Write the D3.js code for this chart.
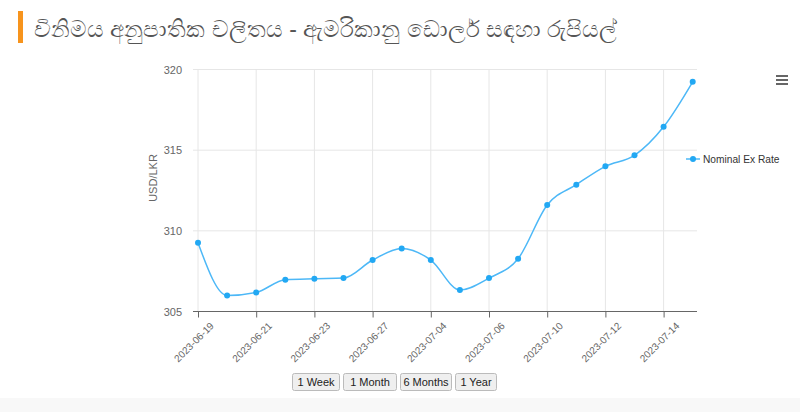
<!DOCTYPE html>
<html>
<head>
<meta charset="utf-8">
<script src="https://cdn.jsdelivr.net/npm/d3@7"></script>
<style>
  body { margin: 0; background: #fff; font-family: "Liberation Sans", Arial, sans-serif; }
  #chart { position: relative; width: 800px; height: 412px; overflow: hidden; }
  .grid line { stroke: #e6e6e6; }
  .tick text { fill: #666; }
</style>
</head>
<body>
<div id="chart"></div>
<script>
// data
var dates = ["2023-06-19", "2023-06-20", "2023-06-21", "2023-06-22", "2023-06-23", "2023-06-26",
    "2023-06-27", "2023-06-28", "2023-07-04", "2023-07-05", "2023-07-06", "2023-07-07",
    "2023-07-10", "2023-07-11", "2023-07-12", "2023-07-13", "2023-07-14", "2023-07-17"];
var rates = [309.26, 305.99, 306.18, 306.97, 307.03, 307.07, 308.19, 308.91, 308.19,
    306.33, 307.07, 308.27, 311.6, 312.86, 314.0, 314.68, 316.45, 319.24];
var yTicks = [305, 310, 315, 320];
var buttons = ["1 Week", "1 Month", "6 Months", "1 Year"];
var titleText = "විනිමය අනුපාතික චලිතය - ඇමරිකානු ඩොලර් සඳහා රුපියල්";
var seriesName = "Nominal Ex Rate";

var svgWidth = 800;
var svgHeight = 412;
var lineColor = "#4db8f7";
var dotColor = "#22a8f3";

var svg = d3.select("#chart")
    .append("svg")
    .attr("width", svgWidth)
    .attr("height", svgHeight);

// bottom band
svg.append("rect")
    .attr("x", 0).attr("y", 398)
    .attr("width", svgWidth).attr("height", 14)
    .attr("fill", "#f8f8f8");

// title
svg.append("rect")
    .attr("x", 18).attr("y", 11)
    .attr("width", 5).attr("height", 32)
    .attr("fill", "#f7941d");
svg.append("text")
    .attr("x", 34).attr("y", 37)
    .attr("fill", "#555")
    .style("font-size", "23px")
    .text(titleText);

var x = d3.scalePoint()
    .domain(dates)
    .range([198, 692.7]);

var y = d3.scaleLinear()
    .domain([305, 320])
    .range([311.5, 69.5]);

var labelDates = dates.filter((d, i) => i % 2 === 0);

// grid
var grid = svg.append("g").attr("class", "grid");
grid.selectAll(".hl")
    .data(yTicks.slice(1))
    .enter().append("line")
    .attr("x1", 193).attr("x2", 697)
    .attr("y1", d => y(d)).attr("y2", d => y(d));
grid.selectAll(".vl")
    .data(labelDates)
    .enter().append("line")
    .attr("x1", d => x(d)).attr("x2", d => x(d))
    .attr("y1", 69.5).attr("y2", 311.5);

// x axis
var bottomAxis = d3.axisBottom(x)
    .tickValues(labelDates)
    .tickSize(6)
    .tickSizeOuter(0);
var xAxis = svg.append("g")
    .attr("transform", "translate(0, 311.5)")
    .call(bottomAxis);
xAxis.select(".domain").remove();
xAxis.append("line")
    .attr("x1", 193).attr("x2", 697)
    .attr("stroke", "#666");
xAxis.selectAll(".tick line").attr("stroke", "#666");
xAxis.selectAll(".tick text")
    .style("font-family", "Liberation Sans, Arial, sans-serif")
    .style("font-size", "10px")
    .attr("text-anchor", "end")
    .attr("x", 0).attr("y", 0).attr("dy", 0)
    .attr("transform", "translate(16, 15) rotate(-45)");

// y axis
var leftAxis = d3.axisLeft(y)
    .tickValues(yTicks)
    .tickSize(0)
    .tickPadding(11);
var yAxis = svg.append("g")
    .attr("transform", "translate(193, 0)")
    .call(leftAxis);
yAxis.select(".domain").remove();
yAxis.selectAll(".tick text")
    .style("font-family", "Liberation Sans, Arial, sans-serif")
    .style("font-size", "11px");

svg.append("text")
    .attr("transform", "translate(157, 178) rotate(-90)")
    .attr("text-anchor", "middle")
    .attr("fill", "#666")
    .style("font-size", "11px")
    .text("USD/LKR");

// line
var line = d3.line()
    .x((d, i) => x(dates[i]))
    .y(d => y(d))
    .curve(d3.curveMonotoneX);

svg.append("path")
    .datum(rates)
    .attr("d", line)
    .attr("fill", "none")
    .attr("stroke", lineColor)
    .attr("stroke-width", 1.5);

svg.selectAll(".dot")
    .data(rates)
    .enter().append("circle")
    .attr("cx", (d, i) => x(dates[i]))
    .attr("cy", d => y(d))
    .attr("r", 3)
    .attr("fill", dotColor);

// legend
var legend = svg.append("g").attr("transform", "translate(686, 159)");
legend.append("line")
    .attr("x1", 0).attr("x2", 14)
    .attr("stroke", lineColor).attr("stroke-width", 1.5);
legend.append("circle")
    .attr("cx", 7).attr("r", 3).attr("fill", dotColor);
legend.append("text")
    .attr("x", 17).attr("dy", "0.35em")
    .attr("fill", "#333")
    .style("font-size", "10.2px")
    .text(seriesName);

// menu icon
svg.selectAll(".menu")
    .data([0, 1, 2])
    .enter().append("rect")
    .attr("x", 776).attr("y", d => 75 + d * 4)
    .attr("width", 12).attr("height", 2)
    .attr("fill", "#666");

// range buttons
var btnX = [292, 343, 400, 455];
var btnW = [47, 53, 51, 41];
var btn = svg.selectAll(".btn")
    .data(buttons)
    .enter().append("g")
    .attr("transform", (d, i) => `translate(${btnX[i]}, 373)`);
btn.append("rect")
    .attr("x", 0.5).attr("y", 0.5)
    .attr("width", (d, i) => btnW[i]).attr("height", 17)
    .attr("rx", 2)
    .attr("fill", "#efefef")
    .attr("stroke", "#bbb");
btn.append("text")
    .attr("x", (d, i) => btnW[i] / 2 + 0.5)
    .attr("y", 13)
    .attr("text-anchor", "middle")
    .attr("fill", "#222")
    .style("font-size", "11px")
    .text(d => d);
</script>
</body>
</html>
